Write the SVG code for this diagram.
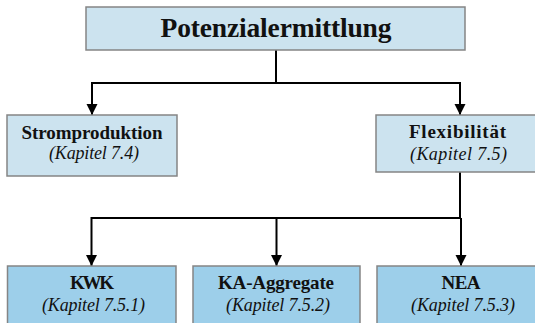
<svg xmlns="http://www.w3.org/2000/svg" width="535" height="323" viewBox="0 0 535 323">
  <style>
    .box { stroke: #858585; stroke-width: 1.5; }
    .light { fill: #cce3ef; }
    .dark { fill: #9dcfea; }
    .t { font-family: "Liberation Serif", "Times New Roman", serif; fill: #111; text-anchor: middle; }
    .b { font-weight: bold; font-size: 19px; }
    .i { font-style: italic; font-size: 18px; }
    .edge { fill: none; stroke: #000; stroke-width: 2; }
  </style>
  <defs>
    <marker id="arrow" markerUnits="userSpaceOnUse" markerWidth="12" markerHeight="12" viewBox="0 0 12 12" refX="11" refY="6" orient="auto">
      <path d="M0,0.5 L11,6 L0,11.5 Z" fill="#000"/>
    </marker>
  </defs>
  <rect width="535" height="323" fill="#fff"/>

  <g id="connectors">
    <path class="edge" d="M276,50 V83"/>
    <path class="edge" d="M92,83 H460"/>
    <path class="edge" d="M92,82 V115" marker-end="url(#arrow)"/>
    <path class="edge" d="M460,82 V115" marker-end="url(#arrow)"/>
    <path class="edge" d="M460,172 V218"/>
    <path class="edge" d="M91.5,218 H461"/>
    <path class="edge" d="M91.5,217 V266" marker-end="url(#arrow)"/>
    <path class="edge" d="M276.5,218 V266" marker-end="url(#arrow)"/>
    <path class="edge" d="M461,218 V266" marker-end="url(#arrow)"/>
  </g>

  <g id="potenzialermittlung">
    <rect class="box light" x="86" y="7" width="379" height="43"/>
    <text class="t" x="276" y="37" font-weight="bold" font-size="27.5" textLength="231">Potenzialermittlung</text>
  </g>

  <g id="stromproduktion">
    <rect class="box light" x="7" y="115" width="170" height="61"/>
    <text class="t b" x="92" y="139" textLength="141">Stromproduktion</text>
    <text class="t i" x="94" y="159" textLength="90">(Kapitel 7.4)</text>
  </g>

  <g id="flexibilitaet">
    <rect class="box light" x="376" y="115" width="164" height="57"/>
    <text class="t b" x="457.5" y="138" textLength="97">Flexibilität</text>
    <text class="t i" x="458.5" y="160" textLength="97">(Kapitel 7.5)</text>
  </g>

  <g id="kwk">
    <rect class="box dark" x="7.5" y="266" width="168.5" height="62"/>
    <text class="t b" x="92" y="289" textLength="44">KWK</text>
    <text class="t i" x="93.5" y="311" textLength="103">(Kapitel 7.5.1)</text>
  </g>

  <g id="ka-aggregate">
    <rect class="box dark" x="193" y="266" width="167" height="62"/>
    <text class="t b" x="276" y="289" textLength="116">KA-Aggregate</text>
    <text class="t i" x="278" y="311" textLength="104">(Kapitel 7.5.2)</text>
  </g>

  <g id="nea">
    <rect class="box dark" x="377" y="266" width="168" height="62"/>
    <text class="t b" x="461" y="289" textLength="39">NEA</text>
    <text class="t i" x="463" y="311" textLength="104">(Kapitel 7.5.3)</text>
  </g>
</svg>
